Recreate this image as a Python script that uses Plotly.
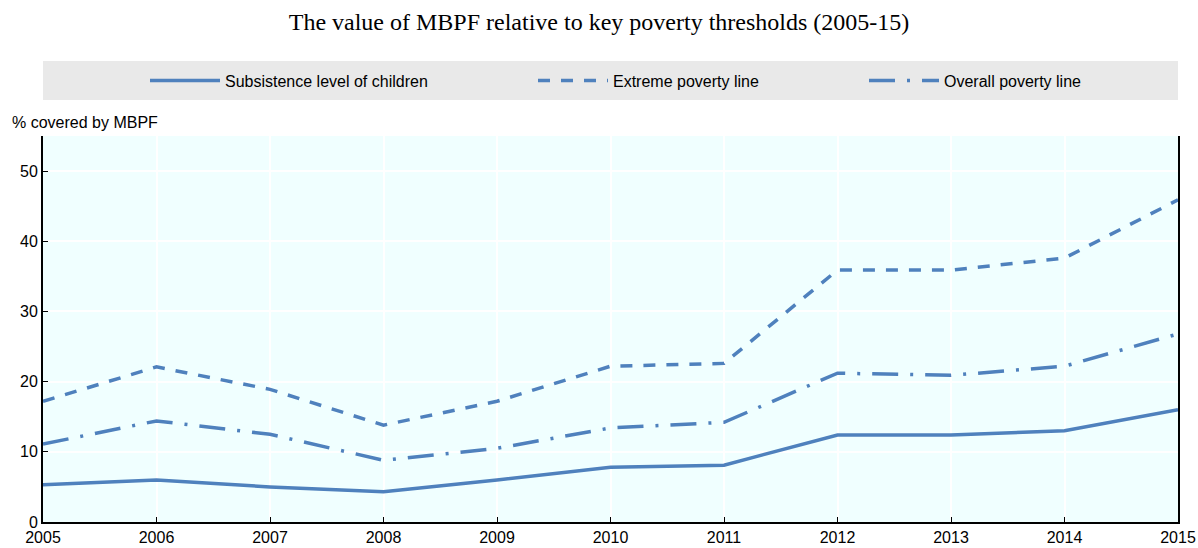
import plotly.graph_objects as go

years = [2005, 2006, 2007, 2008, 2009, 2010, 2011, 2012, 2013, 2014, 2015]
subsistence = [5.3, 6.0, 5.0, 4.3, 6.0, 7.8, 8.1, 12.4, 12.4, 13.0, 16.0]
extreme = [17.2, 22.1, 18.9, 13.8, 17.2, 22.2, 22.6, 35.9, 35.9, 37.6, 45.9]
overall = [11.1, 14.4, 12.5, 8.8, 10.5, 13.4, 14.2, 21.2, 20.9, 22.2, 26.8]

series_names = ["Subsistence level of children", "Extreme poverty line", "Overall poverty line"]
color = "#4F81BD"
sans = "Liberation Sans, Arial"

fig = go.Figure()
fig.add_trace(go.Scatter(x=years, y=subsistence, mode="lines", name=series_names[0],
                         line=dict(color=color, width=3.5, dash="solid"), legend="legend"))
fig.add_trace(go.Scatter(x=years, y=extreme, mode="lines", name=series_names[1],
                         line=dict(color=color, width=3.5, dash="12px,11px"), legend="legend2"))
fig.add_trace(go.Scatter(x=years, y=overall, mode="lines", name=series_names[2],
                         line=dict(color=color, width=3.5, dash="26px,12px,3px,12px"), legend="legend3"))

L, R, T, B = 43, 20, 136, 26
PW = 1198 - L - R
PH = 548 - T - B

leg_common = dict(orientation="h", yanchor="middle", y=(522 - 80.5) / PH, xanchor="left",
                  bgcolor="rgba(0,0,0,0)", font=dict(family=sans, size=16, color="#000"),
                  itemwidth=70)

fig.update_layout(
    width=1198, height=548,
    margin=dict(l=L, r=R, t=T, b=B, autoexpand=False),
    showlegend=True,
    paper_bgcolor="white",
    plot_bgcolor="#F0FFFF",
    title=dict(text="The value of MBPF relative to key poverty thresholds (2005-15)",
               x=0.5, xanchor="center", y=0.961, yanchor="middle",
               font=dict(family="Liberation Serif, Times New Roman", size=24, color="#000")),
    legend=dict(x=(145 - L) / PW, **leg_common),
    legend2=dict(x=(533 - L) / PW, **leg_common),
    legend3=dict(x=(864 - L) / PW, **leg_common),
    xaxis=dict(range=[2005, 2015], tickvals=years, ticktext=[str(y) for y in years],
               showgrid=True, gridcolor="white", gridwidth=1.5,
               showline=True, linecolor="black", linewidth=2,
               ticks="inside", ticklen=5, tickcolor="black", tickwidth=1,
               tickfont=dict(family=sans, size=16, color="#000"),
               zeroline=False),
    yaxis=dict(range=[0, 55], tickvals=[0, 10, 20, 30, 40, 50],
               showgrid=True, gridcolor="white", gridwidth=1.5,
               showline=True, linecolor="black", linewidth=2, mirror=True,
               ticks="inside", ticklen=5, tickcolor="black", tickwidth=1,
               tickfont=dict(family=sans, size=16, color="#000"),
               zeroline=False),
    shapes=[dict(type="rect", xref="paper", yref="paper", x0=0, x1=1,
                 y0=(522 - 100) / PH, y1=(522 - 61) / PH,
                 fillcolor="#E9E9E9", line=dict(width=0), layer="below")],
    annotations=[dict(text="% covered by MBPF", xref="paper", yref="paper",
                      x=(10 - L) / PW, y=(522 - 122) / PH, xanchor="left", yanchor="middle",
                      showarrow=False, font=dict(family=sans, size=16, color="#000"))],
)

fig.write_html("out.html", config={"displayModeBar": False},
               post_script="document.body.style.margin='0px';document.body.style.padding='0px';")
